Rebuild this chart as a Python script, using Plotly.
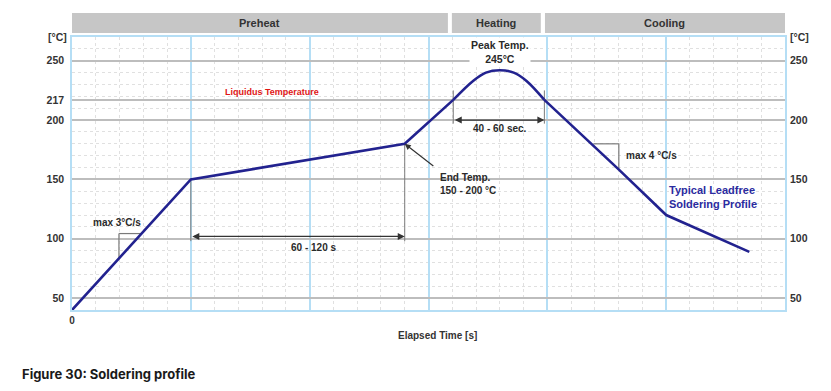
import plotly.graph_objects as go

# ---------------- data ----------------
ramp_t = [0, 60, 168, 192.5]
ramp_T = [40, 150, 180, 217]
peak_t = [192.5, 202.5, 209, 216, 223, 229.5, 238.5]
peak_T = [217, 233, 240, 242, 240, 233, 217]
cool_t = [238.5, 276, 300, 342]
cool_T = [217, 158.5, 120, 89]

liquidus_T = 217
phase_names = ["Preheat", "Heating", "Cooling"]
phase_start = [0, 191.8, 238.8]
phase_end = [189.8, 236.7, 360]

left_ticks = [50, 100, 150, 200, 217, 250]
right_ticks = [50, 100, 150, 200, 250]
x_ticks = [0, 60, 120, 180, 240, 300, 360]
x_ticktext = ["0", "", "", "", "", "", ""]

CURVE = "#22228f"
GRID_BLUE = "#b5def5"
GRID_GREY = "#bdbdbd"
MINOR = "#e0e0e0"
DIM = "#7a7a7a"
TXT = "#2a2a2a"
FONT = "Liberation Sans, Arial, sans-serif"

fig = go.Figure()
for tt, TT, shape in [(ramp_t, ramp_T, "linear"), (peak_t, peak_T, "spline"), (cool_t, cool_T, "linear")]:
    fig.add_trace(go.Scatter(x=tt, y=TT, mode="lines",
                             line=dict(color=CURVE, width=2.6, shape=shape, smoothing=1.0),
                             hoverinfo="skip", showlegend=False))
# invisible trace for right axis
fig.add_trace(go.Scatter(x=[0], y=[50], yaxis="y2", mode="markers", marker=dict(opacity=0),
                         hoverinfo="skip", showlegend=False))

shapes = []
annotations = []

# phase header bands
for name, s, e in zip(phase_names, phase_start, phase_end):
    shapes.append(dict(type="rect", xref="x", yref="paper", x0=s, x1=e, y0=1.0147, y1=1.0879,
                       fillcolor="#c6c6c6", line=dict(width=0), layer="above"))
    annotations.append(dict(x=(s + e) / 2, y=1.0513, xref="x", yref="paper", text=name, showarrow=False,
                            font=dict(family=FONT, size=11, color="#333333", weight="bold"),
                            xanchor="center", yanchor="middle"))

# liquidus line
shapes.append(dict(type="line", xref="paper", yref="y", x0=0, x1=1, y0=liquidus_T, y1=liquidus_T,
                   line=dict(color="#f02020", width=1.5), layer="between"))
annotations.append(dict(x=101, y=224, text="Liquidus Temperature", showarrow=False,
                        font=dict(family=FONT, size=9, color="#e01515", weight="bold")))

# dimension lines
dim_lines = [(60, 150, 98), (168, 180, 98), (192.5, 225, 197), (238.5, 225, 197)]
for x, ya, yb in dim_lines:
    shapes.append(dict(type="line", xref="x", yref="y", x0=x, x1=x, y0=ya, y1=yb,
                       line=dict(color=DIM, width=1), layer="between"))

# slope triangles
slope_lines = [((23.7, 104.4), (35.1, 104.4)), ((23.7, 104.4), (23.7, 83.5)),
               ((263.2, 180), (276.1, 180)), ((276.1, 180), (276.1, 159))]
for (xa, ya), (xb, yb) in slope_lines:
    shapes.append(dict(type="line", xref="x", yref="y", x0=xa, x1=xb, y0=ya, y1=yb,
                       line=dict(color=DIM, width=1.2), layer="between"))

# double arrows
for (xa, xb, y) in [(60, 168, 102), (192.5, 238.5, 200)]:
    annotations.append(dict(x=xb, y=y, ax=xa, ay=y, axref="x", ayref="y", xref="x", yref="y", text="",
                            showarrow=True, arrowside="end+start", arrowhead=2, arrowsize=1,
                            arrowwidth=1.4, arrowcolor="#333333"))
# end temp arrow
annotations.append(dict(x=168, y=180, ax=183.2, ay=160.3, axref="x", ayref="y", text="", showarrow=True,
                        arrowhead=2, arrowsize=1, arrowwidth=1.2, arrowcolor="#333333"))

text_items = [
    (216, 257.2, "Peak Temp.<br>245°C", "center", 10.5, TXT),
    (216, 193, "40 - 60 sec.", "center", 10, TXT),
    (122, 93, "60 - 120 s", "center", 10, TXT),
    (22.6, 114.1, "max 3°C/s", "center", 10, TXT),
    (278.8, 170.2, "max 4 °C/s", "left", 10, TXT),
    (184.8, 146.1, "End Temp.<br>150 - 200 °C", "left", 10, TXT),
    (300.2, 135.1, "Typical Leadfree<br>Soldering Profile", "left", 11, "#2b2ba0"),
]
for x, y, t, anc, sz, col in text_items:
    a = dict(x=x, y=y, text=t, showarrow=False, xanchor=anc, yanchor="middle", align=anc,
             font=dict(family=FONT, size=sz, color=col, weight="bold"))
    if t.startswith("Peak"):
        a["bgcolor"] = "white"
    annotations.append(a)

# unit labels, axis title, caption
annotations += [
    dict(x=-0.021, y=1.0, xref="paper", yref="paper", text="[°C]", showarrow=False, xanchor="center",
         font=dict(family=FONT, size=10.5, color="#333333", weight="bold"), yanchor="middle"),
    dict(x=1.021, y=1.0, xref="paper", yref="paper", text="[°C]", showarrow=False, xanchor="center",
         font=dict(family=FONT, size=10.5, color="#333333", weight="bold"), yanchor="middle"),
    dict(x=0.5126, y=-0.0916, xref="paper", yref="paper", text="Elapsed Time [s]", showarrow=False,
         font=dict(family=FONT, size=10, color="#333333", weight="bold"), yanchor="middle"),
    dict(x=-0.0729, y=-0.2344, xref="paper", yref="paper", text="Figure 30: Soldering profile",
         showarrow=False, xanchor="left", yanchor="middle",
         font=dict(family="Inter, sans-serif", size=13, color="#1a1a1a", weight="bold")),
]

fig.update_layout(
    width=831, height=391,
    margin=dict(l=72, r=46, t=37, b=81),
    paper_bgcolor="white", plot_bgcolor="white",
    showlegend=False,
    shapes=shapes, annotations=annotations,
    xaxis=dict(range=[0, 360], tickmode="array", tickvals=x_ticks, ticktext=x_ticktext,
               showgrid=True, gridcolor=GRID_BLUE, gridwidth=1.5,
               showline=True, linecolor=GRID_BLUE, linewidth=1.5, mirror=True,
               ticks="", zeroline=False,
               tickfont=dict(family=FONT, size=10, color="#333333", weight="bold"),
               minor=dict(tickmode="linear", tick0=0, dtick=12, showgrid=True, gridcolor=MINOR,
                          griddash="dot", gridwidth=1)),
    yaxis=dict(range=[40, 270], tickmode="array", tickvals=left_ticks,
               showgrid=True, gridcolor=GRID_GREY, gridwidth=1.6,
               showline=True, linecolor=GRID_BLUE, linewidth=1.5, mirror=True,
               ticks="", zeroline=False, ticklabelstandoff=4,
               tickfont=dict(family=FONT, size=10.5, color="#333333", weight="bold"),
               minor=dict(tickmode="linear", tick0=0, dtick=10, showgrid=True, gridcolor=MINOR,
                          griddash="dot", gridwidth=1)),
    yaxis2=dict(range=[40, 270], overlaying="y", side="right", tickmode="array", tickvals=right_ticks,
                showgrid=False, zeroline=False, ticks="", ticklabelstandoff=4,
                tickfont=dict(family=FONT, size=10.5, color="#333333", weight="bold")),
)

fig.write_html("out.html")
